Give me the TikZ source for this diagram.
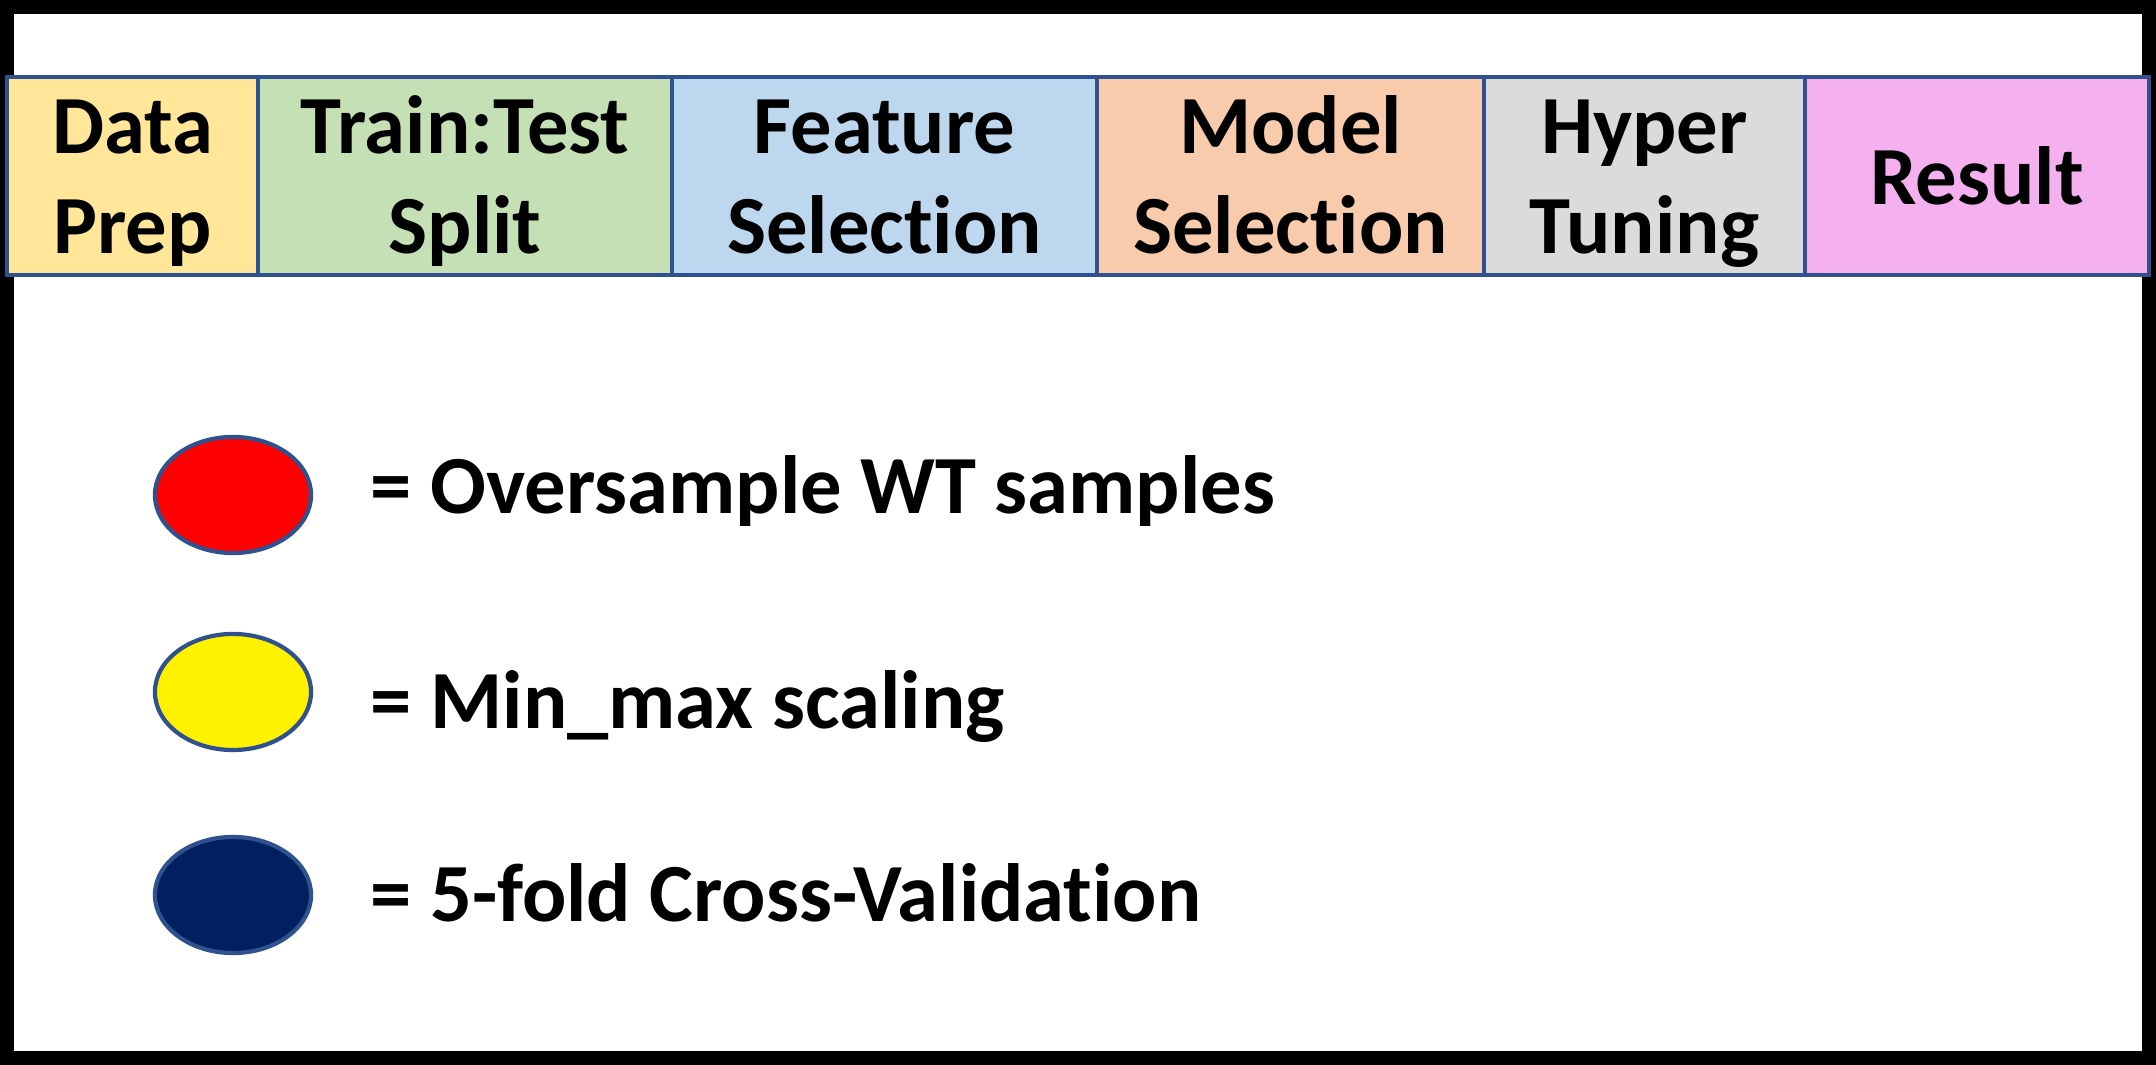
\documentclass[tikz,border=0pt]{standalone}
\usepackage{fontspec}
\setmainfont[Ligatures={NoCommon,NoContextual}]{Carlito}
\usetikzlibrary{shapes.geometric}

\definecolor{edgeblue}{HTML}{2F528F}
\definecolor{prepfill}{HTML}{FFE699}
\definecolor{splitfill}{HTML}{C5E0B4}
\definecolor{featfill}{HTML}{BDD7EE}
\definecolor{modelfill}{HTML}{F8CBAD}
\definecolor{tunefill}{HTML}{DBDBDB}
\definecolor{resultfill}{HTML}{F5B0F0}
\definecolor{navyfill}{HTML}{002060}

\newcommand{\labelfont}{\fontsize{23.5}{28.2}\selectfont\bfseries}
% fixed line heights so every two-line stage label sits on the same baselines
\newcommand{\upperline}{\rule{0pt}{0.76cm}}
\newcommand{\lowerline}{\rule[-0.21cm]{0pt}{0.21cm}}

\tikzset{
  stagebox/.style={draw=edgeblue, line width=1.1pt, minimum height=1.98cm,
    inner sep=0pt, align=center, font=\labelfont},
  legdot/.style={ellipse, draw=edgeblue, line width=1.2pt,
    minimum width=1.56cm, minimum height=1.16cm, inner sep=0pt},
  legtext/.style={anchor=base west, inner sep=0pt, font=\labelfont}
}

\begin{document}
\begin{tikzpicture}[x=0.01cm, y=-0.01cm]
  % frame
  \fill[black] (0,0) rectangle (2156,1065);
  \fill[white] (14,14) rectangle (2142,1051);
  \useasboundingbox (0,0) rectangle (2156,1065);

  % pipeline stages
  \node[stagebox, fill=prepfill,   minimum width=2.51cm] (prep)   at (132.5,176)  {\upperline Data\\Prep\lowerline};
  \node[stagebox, fill=splitfill,  minimum width=4.14cm] (split)  at (465,176)    {\upperline Train:Test\\Split\lowerline};
  \node[stagebox, fill=featfill,   minimum width=4.25cm] (feat)   at (884.5,176)  {\upperline Feature\\Selection\lowerline};
  \node[stagebox, fill=modelfill,  minimum width=3.87cm] (model)  at (1290.5,176) {\upperline Model\\Selection\lowerline};
  \node[stagebox, fill=tunefill,   minimum width=3.21cm] (tune)   at (1644.5,176) {\upperline Hyper\\Tuning\lowerline};
  \node[stagebox, fill=resultfill, minimum width=3.44cm] (result) at (1977,176)   {Result};

  % legend
  \node[legdot, fill=red]      (overdot)  at (233,495) {};
  \node[legdot, fill=yellow]   (scaledot) at (233,692) {};
  \node[legdot, fill=navyfill] (cvdot)    at (233,895) {};

  \node[legtext] (overtext)  at (370,514) {= Oversample WT samples};
  \node[legtext] (scaletext) at (370,729) {= Min\_max scaling};
  \node[legtext] (cvtext)    at (370,922) {= 5-fold Cross-Validation};
\end{tikzpicture}
\end{document}
